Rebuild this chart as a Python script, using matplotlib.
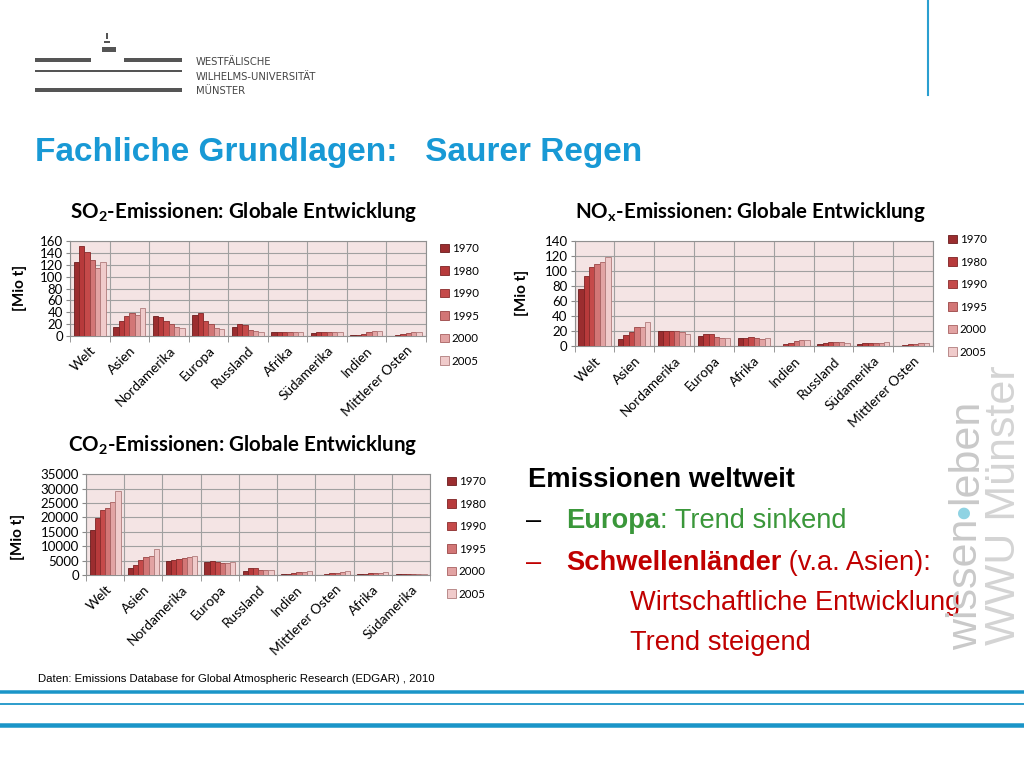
import numpy as np
import matplotlib
matplotlib.use("Agg")
import matplotlib.pyplot as plt
from matplotlib import font_manager
from matplotlib.patches import Rectangle, Patch

W, H = 1024, 768

# --- data (Mio t) ---
years = ["1970", "1980", "1990", "1995", "2000", "2005"]

so2_regions = ["Welt", "Asien", "Nordamerika", "Europa", "Russland", "Afrika",
               "Südamerika", "Indien", "Mittlerer Osten"]
so2_welt = [125, 152, 142, 128, 115, 124]
so2_asien = [16, 25, 34, 39, 35, 47]
so2_nordamerika = [33, 32, 26, 20, 16, 13]
so2_europa = [36, 38, 25, 20, 14, 11]
so2_russland = [15, 21, 18, 10, 8, 6]
so2_afrika = [7, 7, 7.5, 7, 7, 7]
so2_suedamerika = [5, 6, 6, 6, 6, 6]
so2_indien = [1, 2, 4, 6, 8, 8.5]
so2_mittlerer_osten = [0.5, 2, 4, 5, 6, 6.5]

nox_regions = ["Welt", "Asien", "Nordamerika", "Europa", "Afrika", "Indien",
               "Russland", "Südamerika", "Mittlerer Osten"]
nox_welt = [76, 94, 106, 109, 112, 119]
nox_asien = [10, 15, 19.5, 25, 25, 32]
nox_nordamerika = [20, 20, 21, 20, 19.5, 16.5]
nox_europa = [14, 17, 16, 13, 11, 10.5]
nox_afrika = [11, 11, 12, 11, 10, 11]
nox_indien = [1, 2.5, 5, 7, 8.5, 9]
nox_russland = [3, 5, 6, 6, 6, 4]
nox_suedamerika = [3, 4.5, 4.5, 5, 5, 6]
nox_mittlerer_osten = [0.5, 1.5, 2.5, 3.5, 4, 4.5]

co2_regions = ["Welt", "Asien", "Nordamerika", "Europa", "Russland", "Indien",
               "Mittlerer Osten", "Afrika", "Südamerika"]
co2_welt = [15800, 19800, 22600, 23400, 25200, 29100]
co2_asien = [2400, 3600, 5100, 6400, 6500, 9200]
co2_nordamerika = [5000, 5300, 5500, 5800, 6400, 6600]
co2_europa = [4500, 5000, 4600, 4300, 4300, 4400]
co2_russland = [1500, 2300, 2600, 1800, 1600, 1700]
co2_indien = [200, 300, 600, 900, 1100, 1300]
co2_mittlerer_osten = [150, 300, 600, 800, 1000, 1400]
co2_afrika = [300, 400, 600, 700, 800, 1100]
co2_suedamerika = [300, 300, 300, 350, 350, 350]

year_colors = ["#9b2d2f", "#b73a3b", "#c54a4a", "#d27676", "#e2a3a3", "#f0cbcb"]
year_edges = ["#6a1c1d", "#7e2324", "#8a2c2c", "#9a4545", "#a96262", "#b07c7c"]

BLUE = "#1899d5"
RED = "#c00000"
GREEN = "#3a973a"
CHART_FONT = "Lato"
SLIDE_FONT = "Liberation Sans"

installed = {f.name for f in font_manager.fontManager.ttflist}
if "Liberation Sans Narrow" in installed:
    WM_FONT, WM_SIZE = "Liberation Sans Narrow", 37
else:
    WM_FONT, WM_SIZE = "Liberation Sans", 31


def box(x0, y0, x1, y1):
    return [x0 / W, 1 - y1 / H, (x1 - x0) / W, (y1 - y0) / H]


def fx(x):
    return x / W


def fy(y):
    return 1 - y / H


def bar_chart(fig, rect, regions, series, ymax, ystep, title, title_xy,
              ylabel_xy, legend_xy):
    ax = fig.add_axes(rect)
    ax.set_facecolor("#f4e4e4")
    x = np.arange(len(regions))
    bw = 0.135
    for i, (vals, c, ec) in enumerate(zip(series, year_colors, year_edges)):
        ax.bar(x + (i - 2.5) * bw, vals, bw, color=c, edgecolor=ec,
               linewidth=0.6, label=years[i], zorder=3)
    ax.set_xlim(-0.5, len(regions) - 0.5)
    ax.set_ylim(0, ymax)
    ax.set_yticks(np.arange(0, ymax + 1, ystep))
    ax.set_xticks(x)
    ax.set_xticklabels(regions, rotation=45, ha="right", va="top",
                       rotation_mode="anchor", fontsize=9.8, family=CHART_FONT)
    ax.set_xticks(np.arange(-0.5, len(regions)), minor=True)
    ax.tick_params(axis="x", which="major", length=0, pad=6)
    ax.tick_params(axis="x", which="minor", length=4, color="#888888")
    ax.tick_params(axis="y", length=3, color="#888888", labelsize=9.5, pad=2)
    for lab in ax.get_yticklabels():
        lab.set_family(CHART_FONT)
    ax.grid(axis="y", which="major", color="#a0a0a0", linewidth=0.8, zorder=0)
    ax.grid(axis="x", which="minor", color="#a0a0a0", linewidth=0.8, zorder=0)
    for s in ax.spines.values():
        s.set_color("#909090")
        s.set_linewidth(0.8)

    fig.text(fx(title_xy[0]), fy(title_xy[1]), title, fontsize=14.8,
             fontweight="bold", family=CHART_FONT, va="center", ha="left")
    fig.text(fx(ylabel_xy[0]), fy(ylabel_xy[1]), "[Mio t]", fontsize=11,
             fontweight="bold", family=CHART_FONT, rotation=90,
             va="center", ha="center")
    handles = [Patch(facecolor=c, edgecolor=ec, linewidth=0.6)
               for c, ec in zip(year_colors, year_edges)]
    ax.legend(handles, years, loc="upper left",
              bbox_to_anchor=(fx(legend_xy[0]), fy(legend_xy[1])),
              bbox_transform=fig.transFigure, frameon=False,
              prop={"family": CHART_FONT, "size": 8.3}, labelspacing=1.0,
              handlelength=0.75, handleheight=0.75, handletextpad=0.25,
              borderpad=0, borderaxespad=0)
    return ax


plt.rcParams["mathtext.fontset"] = "custom"
plt.rcParams["mathtext.rm"] = CHART_FONT
plt.rcParams["mathtext.bf"] = CHART_FONT + ":bold"

fig = plt.figure(figsize=(W / 100, H / 100), dpi=100)
fig.patch.set_facecolor("white")

so2 = [so2_welt, so2_asien, so2_nordamerika, so2_europa, so2_russland,
       so2_afrika, so2_suedamerika, so2_indien, so2_mittlerer_osten]
nox = [nox_welt, nox_asien, nox_nordamerika, nox_europa, nox_afrika,
       nox_indien, nox_russland, nox_suedamerika, nox_mittlerer_osten]
co2 = [co2_welt, co2_asien, co2_nordamerika, co2_europa, co2_russland,
       co2_indien, co2_mittlerer_osten, co2_afrika, co2_suedamerika]

bar_chart(fig, box(70, 241, 425.5, 336), so2_regions,
          [list(v) for v in zip(*so2)], 160, 20,
          r"SO$_{\mathbf{2}}$-Emissionen: Globale Entwicklung",
          (70, 212), (20, 288), (440, 243))
bar_chart(fig, box(574.5, 241, 933, 346.3), nox_regions,
          [list(v) for v in zip(*nox)], 140, 20,
          r"NO$_{\mathbf{x}}$-Emissionen: Globale Entwicklung",
          (575, 212), (522, 293), (948, 234))
bar_chart(fig, box(86, 474.3, 430.2, 575), co2_regions,
          [list(v) for v in zip(*co2)], 35000, 5000,
          r"CO$_{\mathbf{2}}$-Emissionen: Globale Entwicklung",
          (68, 445), (18, 537), (447, 476))

# --- logo ---
logo_grey = "#555555"
for (x0, y0, x1, y1) in [(35, 58, 91, 62), (124, 58, 182, 62), (35, 70, 182, 72),
                         (35, 88, 182, 92), (102, 47, 116, 52), (104, 41, 110, 43),
                         (106, 33, 108, 39)]:
    fig.patches.append(Rectangle((fx(x0), fy(y1)), (x1 - x0) / W, (y1 - y0) / H,
                                 transform=fig.transFigure, color=logo_grey,
                                 linewidth=0))
for txt, y in [("WESTFÄLISCHE", 62), ("WILHELMS-UNIVERSITÄT", 77), ("MÜNSTER", 91)]:
    fig.text(fx(196), fy(y), txt, fontsize=8, color="#444444",
             family="DejaVu Sans", fontstretch="condensed", va="center")

fig.add_artist(plt.Line2D([fx(928), fx(928)], [fy(0), fy(95)],
                          transform=fig.transFigure, color="#2a9fd0", linewidth=1.5))

fig.text(fx(35), fy(152), "Fachliche Grundlagen:   Saurer Regen", fontsize=24,
         fontweight="bold", color=BLUE, family=SLIDE_FONT, va="center")

# --- footer ---
fig.text(fx(38), fy(679), "Daten: Emissions Database for Global Atmospheric Research (EDGAR) , 2010",
         fontsize=8.2, family=SLIDE_FONT, va="center")
for y, lw in [(692, 3.5), (704, 1.8), (725, 4.5)]:
    fig.add_artist(plt.Line2D([0, 1], [fy(y), fy(y)], transform=fig.transFigure,
                              color="#1a95c8", linewidth=lw * 0.72))

# --- right text block ---
renderer = fig.canvas.get_renderer()


def run(x, y, parts, size=19.6):
    for txt, weight, color in parts:
        t = fig.text(fx(x), fy(y), txt, fontsize=size, fontweight=weight,
                     color=color, family=SLIDE_FONT, va="center", ha="left")
        x = t.get_window_extent(renderer).x1


run(528, 480, [("Emissionen weltweit", "bold", "black")])
run(526, 521, [("–", "normal", "black")])
run(566, 521, [("Europa", "bold", GREEN), (": Trend sinkend", "normal", GREEN)])
run(526, 563, [("–", "normal", RED)])
run(566, 563, [("Schwellenländer", "bold", RED), (" (v.a. Asien):", "normal", RED)])
run(630, 603, [("Wirtschaftliche Entwicklung", "normal", RED)])
run(630, 643, [("Trend steigend", "normal", RED)])

# --- watermark ---
wm = "#c9c9c9"
y = 650
for txt, color in [("wissen", wm), ("•", "#8fd3e3"), ("leben", wm)]:
    t = fig.text(fx(986), 1 - y / H, txt, fontsize=WM_SIZE, color=color,
                 family=WM_FONT, rotation=90, ha="right", va="bottom")
    bb = t.get_window_extent(renderer)
    y = H - bb.y1
fig.text(fx(1024), fy(645), "WWU Münster", fontsize=WM_SIZE, color="#d4d4d4",
         family=WM_FONT, rotation=90, ha="right", va="bottom")

fig.savefig("out.png", dpi=100)
